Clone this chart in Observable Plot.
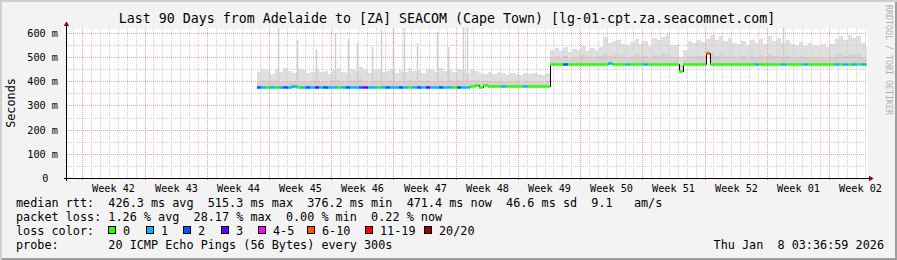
<!DOCTYPE html>
<html><head><meta charset="utf-8">
<script src="https://cdn.jsdelivr.net/npm/d3@7"></script>
<script src="https://cdn.jsdelivr.net/npm/@observablehq/plot@0.6"></script>
<style>
body{margin:0;background:#fff;}
#chart{position:relative;width:897px;height:260px;background:#f3f3f3;box-shadow:inset 2px 2px 0 #cfcfcf, inset -2px -2px 0 #9e9e9e;overflow:hidden;font-family:"DejaVu Sans Mono",monospace;color:#000;}
#chart svg{position:absolute;left:0;top:0;}
.t{position:absolute;white-space:pre;}
.box{position:absolute;width:6px;height:6px;border:1px solid #000;}
</style></head><body><div id="chart"></div>
<script>
// ---------- data ----------
const titleText = "Last 90 Days from Adelaide to [ZA] SEACOM (Cape Town) [lg-01-cpt.za.seacomnet.com]";
const yLabel = "Seconds";
const rangeStartISO = "2025-10-11T06:40:00Z";
const rangeEndISO = "2026-01-09T06:40:00Z";
const binStartISO = "2025-11-01T15:00:00Z";   // first 12-hour bin
const binHours = 12;

const lossLabels = ["0", "1", "2", "3", "4-5", "6-10", "11-19", "20/20"];
const lossColors = ["#26ff00", "#00b8ff", "#0059ff", "#5e00ff", "#ff00ff", "#ff5500", "#ff0000", "#a10000"];

const medianMs = [
 377,377,377,376,377,377,377,377,380,377,
 377,377,376,377,377,377,377,377,377,377,
 377,376,377,377,377,377,377,378,377,377,
 377,377,377,376,377,377,377,377,377,377,
 377,377,377,377,376,377,377,378,381,384,
 378,386,381,380,380,380,380,380,380,380,
 380,380,380,380,380,380,472,472,472,472,
 472,472,472,472,472,472,472,472,472,474,
 472,472,472,472,472,472,472,472,472,472,
 472,472,472,472,472,444,472,472,472,472,
 472,515,472,472,472,472,472,472,472,472,
 472,472,472,472,472,472,472,472,472,472,
 472,472,472,472,472,472,472,472,472,472,
 472,472,472,472,472,472,471,471];
const maxMs = [
 440,452,445,430,448,438,455,442,435,450,
 446,432,440,452,438,444,430,448,455,440,
 436,450,442,458,445,432,447,452,438,444,
 450,436,446,440,455,442,448,435,452,446,
 440,456,444,450,438,452,446,434,448,442,
 436,430,438,428,440,432,426,436,430,424,
 432,428,436,430,426,434,530,538,526,542,
 520,534,528,545,524,536,530,540,584,560,
 568,572,555,548,562,575,552,566,545,578,
 570,582,595,550,548,500,530,565,558,570,
 562,575,590,572,585,565,578,560,552,566,
 548,570,560,575,555,585,568,580,558,572,
 555,548,562,545,560,550,545,555,540,552,
 575,585,570,590,580,588,560,540];
const innerMs = [
 398,404,396,400,405,395,402,399,401,397,
 403,396,400,406,398,401,395,404,407,399,
 397,405,400,408,402,396,403,406,398,401,
 405,397,402,399,407,400,404,396,406,402,
 399,408,401,404,397,406,402,395,404,405,
 400,404,401,398,401,398,395,400,397,394,
 399,396,401,397,394,400,498,503,495,506,
 492,500,497,508,494,502,499,505,512,504,
 507,510,500,497,505,511,499,506,496,509,
 506,511,514,499,497,468,490,506,502,508,
 504,530,515,506,512,502,509,500,497,505,
 496,507,502,510,499,512,505,509,501,507,
 500,497,504,495,502,498,496,501,493,499,
 508,512,505,514,509,511,502,496];
const lossIdx = [
 2,1,0,1,0,1,2,1,1,0,
 1,2,1,3,1,2,1,1,0,1,
 2,1,1,2,3,1,1,0,1,2,
 1,1,2,1,0,1,2,1,3,1,
 1,2,1,1,0,2,1,1,0,0,
 0,0,0,0,0,1,0,0,0,0,
 1,0,0,0,0,0,0,0,0,2,
 0,0,0,0,0,0,0,0,0,1,
 0,0,0,1,0,0,0,1,0,0,
 0,0,0,0,0,0,0,0,0,0,
 0,5,0,0,0,0,0,0,0,0,
 0,0,1,0,0,0,0,0,1,0,
 0,0,0,1,0,0,0,0,0,0,
 1,0,1,0,1,0,1,0];

const spikeTimes = ["2025-11-04T00:20Z","2025-11-06T03:40Z","2025-11-08T07:00Z","2025-11-10T10:15Z",
 "2025-11-11T21:20Z","2025-11-12T21:35Z","2025-11-14T14:10Z","2025-11-15T14:30Z","2025-11-16T22:45Z",
 "2025-11-18T04:35Z","2025-11-19T15:35Z","2025-11-21T21:35Z","2025-11-23T03:20Z","2025-11-24T19:50Z",
 "2025-11-25T06:40Z","2025-12-30T19:50Z"];
const spikeMs = [620,570,535,600,575,560,540,610,620,620,560,605,540,620,620,620];

const yTicks = [100, 200, 300, 400, 500, 600];
const yMinorTicks = [50, 150, 250, 350, 450, 550];
const yMax = 620;

const statsLines = [
 "median rtt:  426.3 ms avg  515.3 ms max  376.2 ms min  471.4 ms now  46.6 ms sd  9.1   am/s",
 "packet loss: 1.26 % avg  28.17 % max  0.00 % min  0.22 % now"
];
const lossTitle = "loss color:";
const probeLine = "probe:       20 ICMP Echo Pings (56 Bytes) every 300s";
const stampText = "Thu Jan  8 03:36:59 2026";
const watermark = "RRDTOOL / TOBI OETIKER";

// ---------- derived tables ----------
const HOUR = 3600e3, DAY = 24 * HOUR;
const rangeStart = new Date(rangeStartISO), rangeEnd = new Date(rangeEndISO);
const t0 = new Date(binStartISO).getTime();
const bins = medianMs.map((m, i) => ({
  t: new Date(t0 + i * binHours * HOUR),
  t2: new Date(t0 + (i + 1) * binHours * HOUR),
  median: m, max: maxMs[i], inner: innerMs[i], loss: lossIdx[i]
}));
const last = bins[bins.length - 1];
const areaData = [...bins, {...last, t: last.t2}];
const spikes = spikeTimes.map((s, i) => {
  const t = new Date(s);
  const b = bins[Math.max(0, Math.min(bins.length - 1, Math.floor((t - t0) / (binHours * HOUR))))];
  return {t, value: spikeMs[i], median: b.median};
});
const days = d3.utcDay.range(rangeStart, rangeEnd);
const mondays = d3.utcMonday.range(rangeStart, rangeEnd);
const weekMids = mondays.map(d => new Date(+d + 3.5 * DAY));
const fmtWeek = d3.utcFormat("%V");

// axis decoration extents (pixel lengths converted to scale units)
const pxPerDay = 800 / 90, pxPerMs = 150 / yMax;
const axisXStart = new Date(+rangeStart - 3 / pxPerDay * DAY);
const axisXEnd = new Date(+rangeEnd + 4 / pxPerDay * DAY);
const arrowXT = new Date(+rangeEnd + 3.3 / pxPerDay * DAY);
const axisYTop = yMax + 6 / pxPerMs;
const arrowYTop = yMax + 4.2 / pxPerMs;
const axisYBottom = -3 / pxPerMs;
const tickBottom = -2 / pxPerMs;

const minorGrid = "#d0d0d0", majorGrid = "#f0a0a0";

const plot = Plot.plot({
  width: 897, height: 200,
  marginLeft: 67, marginRight: 30, marginTop: 28, marginBottom: 22,
  style: {background: "transparent", fontFamily: '"DejaVu Sans Mono", monospace', fontSize: "10.2px", color: "#000", overflow: "visible"},
  x: {type: "utc", domain: [rangeStart, rangeEnd], round: true},
  y: {type: "linear", domain: [0, yMax], round: true},
  marks: [
    Plot.frame({fill: "white", stroke: "none"}),
    Plot.areaY(areaData, {x: "t", y1: "median", y2: "max", curve: "step-after", fill: "#dfdfdf", clip: true}),
    Plot.areaY(areaData, {x: "t", y1: "median", y2: "inner", curve: "step-after", fill: "#d3d3d3", clip: true}),
    Plot.ruleX(spikes, {x: "t", y1: "median", y2: "value", stroke: "#cfcfcf", strokeWidth: 1.5, clip: true}),
    Plot.ruleX(days, {stroke: minorGrid, strokeDasharray: "1,1"}),
    Plot.ruleY(yMinorTicks, {stroke: minorGrid, strokeDasharray: "1,1"}),
    Plot.ruleX(mondays, {stroke: majorGrid, strokeDasharray: "1,1"}),
    Plot.ruleY(yTicks, {stroke: majorGrid, strokeDasharray: "1,1"}),
    Plot.line(areaData, {x: "t", y: "median", curve: "step-after", stroke: "#000", strokeWidth: 1, clip: true}),
    Plot.ruleY(bins, {y: "median", x1: "t", x2: "t2", stroke: d => lossColors[d.loss], strokeWidth: 2.5, clip: true}),
    Plot.axisY(yTicks, {tickFormat: d => `${d} m`, tickSize: 0, tickPadding: 9.5}),
    Plot.axisY([0], {tickFormat: () => "0", tickSize: 0, tickPadding: 19}),
    Plot.axisX(weekMids, {tickFormat: d => `Week ${fmtWeek(d)}`, tickSize: 0, tickPadding: 6}),
    Plot.ruleX(mondays, {y1: tickBottom, y2: 0, stroke: "#e07070"}),
    Plot.ruleY([0], {x1: axisXStart, x2: axisXEnd, stroke: "#000"}),
    Plot.ruleX([rangeStart], {y1: axisYBottom, y2: axisYTop, dx: -1, stroke: "#000"}),
    Plot.dot([{t: rangeStart, v: arrowYTop}], {x: "t", y: "v", dx: -1, symbol: "triangle", r: 2, fill: "#800000", stroke: "none"}),
    Plot.dot([{t: arrowXT, v: 0}], {x: "t", y: "v", symbol: "triangle", rotate: 90, r: 2, fill: "#800000", stroke: "none"})
  ]
});

// ---------- assemble ----------
const chart = document.getElementById("chart");
chart.appendChild(plot);
function addText(txt, css) {
  const d = document.createElement("div");
  d.className = "t"; d.textContent = txt;
  Object.assign(d.style, css);
  chart.appendChild(d);
  return d;
}
addText(titleText, {left: "0px", width: "894px", textAlign: "center", top: "11px", fontSize: "13.3px", lineHeight: "16px"});
addText(yLabel, {left: "11.2px", top: "102.5px", fontSize: "11.8px", lineHeight: "14px", transform: "translate(-50%,-50%) rotate(-90deg)"});
addText(watermark, {left: "889px", top: "60px", fontSize: "8.3px", lineHeight: "10px", color: "#b0b0b0", transform: "translate(-50%,-50%) rotate(90deg)"});
const legFont = {fontSize: "11.8px", lineHeight: "14px"};
const rowTop = [196.4, 210.4, 224.4, 238.4];
addText(statsLines[0], {...legFont, left: "16px", top: rowTop[0] + "px"});
addText(statsLines[1], {...legFont, left: "16px", top: rowTop[1] + "px"});
addText(lossTitle, {...legFont, left: "16px", top: rowTop[2] + "px"});
const boxX = [108, 146, 183, 221, 258, 307, 365, 424];
lossLabels.forEach((lab, i) => {
  const b = document.createElement("div");
  b.className = "box";
  Object.assign(b.style, {left: boxX[i] + "px", top: "226px", background: lossColors[i]});
  chart.appendChild(b);
  addText(lab, {...legFont, left: (boxX[i] + 15) + "px", top: rowTop[2] + "px"});
});
addText(probeLine, {...legFont, left: "16px", top: rowTop[3] + "px"});
addText(stampText, {...legFont, right: "13px", top: rowTop[3] + "px"});
</script></body></html>
